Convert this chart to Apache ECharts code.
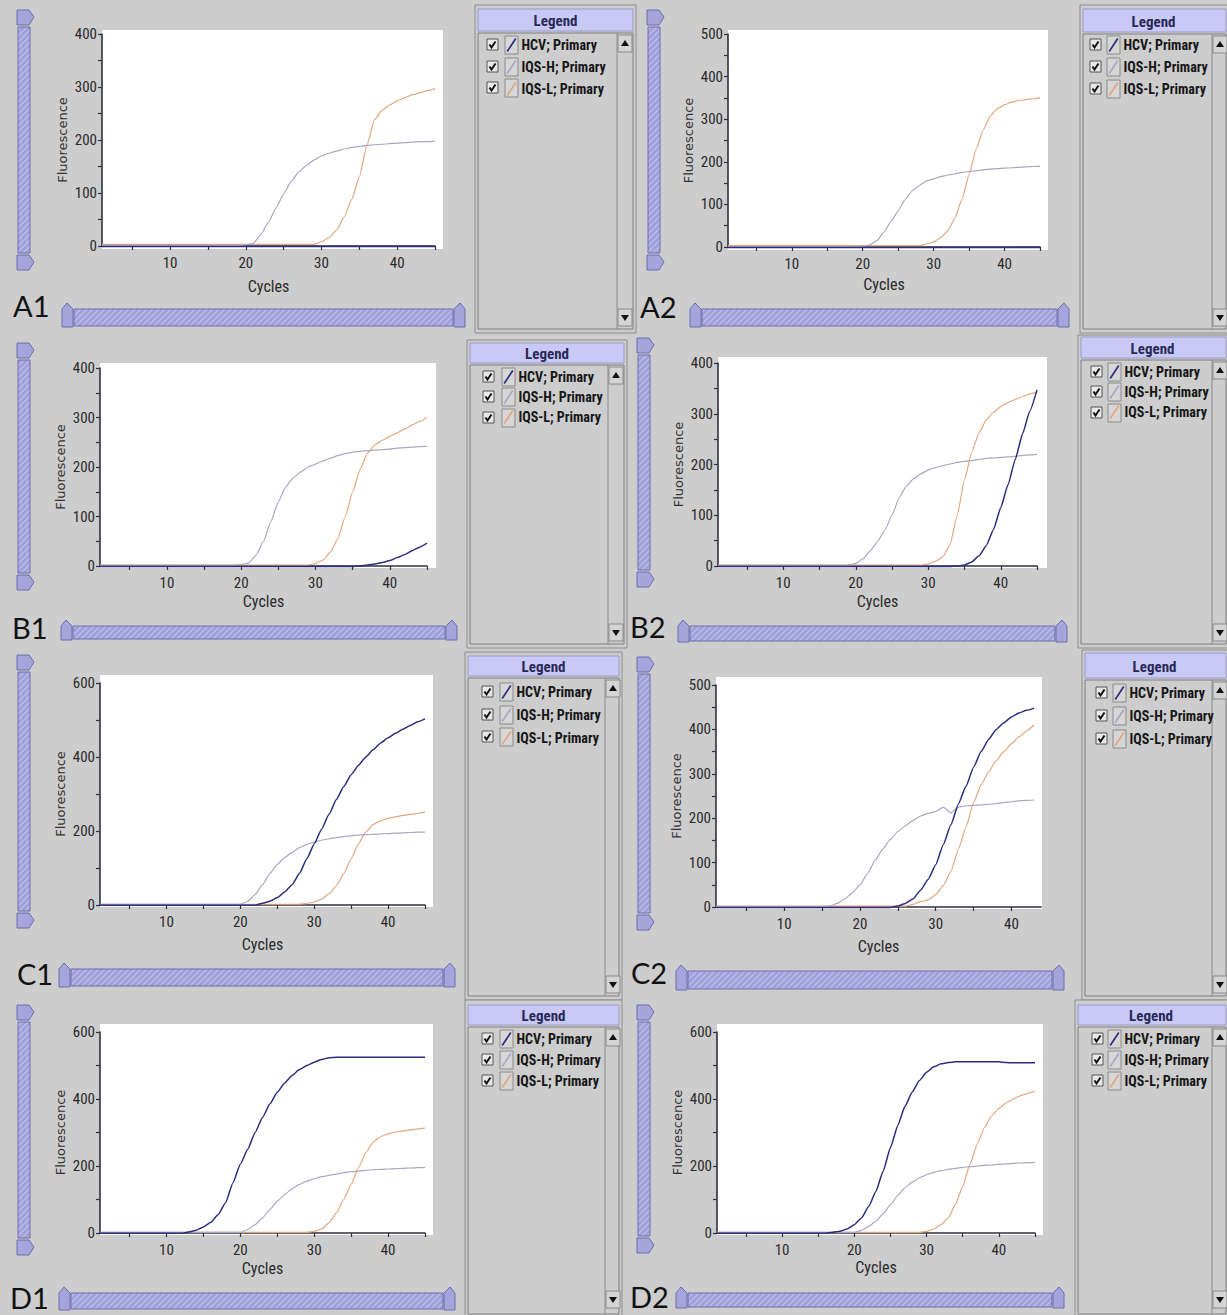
<!DOCTYPE html>
<html><head><meta charset="utf-8">
<script src="https://cdn.jsdelivr.net/npm/echarts@6/dist/echarts.min.js"></script>
<style>html,body{margin:0;padding:0;background:#cdcdcd}#c{width:1227px;height:1315px}</style>
</head><body><div id="c"></div><script>
// ---------------- data ----------------
const cycles = [1,2,3,4,5,6,7,8,9,10,11,12,13,14,15,16,17,18,19,20,21,22,23,24,25,26,27,28,29,30,31,32,33,34,35,36,37,38,39,40,41,42,43,44,45];
const seriesNames = ['HCV; Primary','IQS-H; Primary','IQS-L; Primary'];
const panelLabels = ['A1','A2','B1','B2','C1','C2','D1','D2'];
const yMaxes = [400,500,400,400,600,500,600,600];
const yIntervals = [100,100,100,100,200,100,200,200];
const xMaxes = [45,45,45,45,45,43.9,45,45];
const xTickValues = [5,10,15,20,25,30,35,40,45];
const xLabelValues = [10,20,30,40];

const A1_HCV = [-1,-1,-1,-1,-1, -1,-1,-1,-1,-1, -1,-1,-1,-1,-1, -1,-1,-1,-1,-1, -1,-1,-1,-1,-1, -1,-1,-1,-1,-1, -1,-1,-1,-1,-1, -1,-1,-1,-1,-1, -1,-1,-1,-1,-1];
const A1_IQSH = [1,1,1,1,1, 1,1,1,1,1, 1,1,1,1,1, 1,1,1,1,2, 5,22,45,72,98, 122,140,152,162,170, 175,179,183,186,188, 190,191,192,193,194, 195,196,197,197,198];
const A1_IQSL = [3,3,3,3,3, 3,3,3,3,3, 3,3,3,3,3, 3,3,3,3,3, 3,3,3,3,3, 3,3,3,3,8, 16,30,55,88,130, 190,238,256,266,274, 280,285,289,293,297];

const A2_HCV = [-1,-1,-1,-1,-1, -1,-1,-1,-1,-1, -1,-1,-1,-1,-1, -1,-1,-1,-1,-1, -1,-1,-1,-1,-1, -1,-1,-1,-1,-1, -1,-1,-1,-1,-1, -1,-1,-1,-1,-1, -1,-1,-1,-1,-1];
const A2_IQSH = [1,1,1,1,1, 1,1,1,1,1, 1,1,1,1,1, 1,1,1,1,2, 5,15,35,60,85, 112,132,145,155,160, 165,169,172,175,177, 179,181,183,184,185, 186,187,188,189,190];
const A2_IQSL = [3,3,3,3,3, 3,3,3,3,3, 3,3,3,3,3, 3,3,3,3,3, 3,3,3,3,3, 3,3,3,7,12, 22,38,68,112,170, 230,275,308,325,334, 340,344,346,348,350];

const B1_HCV = [-1,-1,-1,-1,-1, -1,-1,-1,-1,-1, -1,-1,-1,-1,-1, -1,-1,-1,-1,-1, -1,-1,-1,-1,-1, -1,-1,-1,-1,-1, -1,-1,-1,-1,-1, 0,2,4,7,11, 17,23,31,38,46];
const B1_IQSH = [2,2,2,2,2, 2,2,2,2,2, 2,2,2,2,2, 2,2,2,2,3, 6,22,50,90,130, 160,178,190,200,206, 212,218,223,227,230, 232,233,234,235,236, 238,239,240,241,242];
const B1_IQSL = [2,2,2,2,2, 2,2,2,2,2, 2,2,2,2,2, 2,2,2,2,2, 2,2,2,2,2, 2,2,2,2,5, 12,28,55,100,150, 195,228,245,254,262, 269,277,285,292,300];

const B2_HCV = [-1,-1,-1,-1,-1, -1,-1,-1,-1,-1, -1,-1,-1,-1,-1, -1,-1,-1,-1,-1, -1,-1,-1,-1,-1, -1,-1,-1,-1,-1, -1,-1,-1,0,2, 8,20,40,72,115, 160,210,260,305,347];
const B2_IQSH = [2,2,2,2,2, 2,2,2,2,2, 2,2,2,2,2, 2,2,2,2,5, 14,30,48,70,100, 135,158,172,182,189, 194,198,201,204,206, 208,210,212,213,214, 215,216,218,219,220];
const B2_IQSL = [2,2,2,2,2, 2,2,2,2,2, 2,2,2,2,2, 2,2,2,2,2, 2,2,2,2,2, 2,2,2,2,4, 9,18,42,100,170, 225,262,288,303,314, 322,328,334,339,343];

const C1_HCV = [-1,-1,-1,-1,-1, -1,-1,-1,-1,-1, -1,-1,-1,-1,-1, -1,-1,-1,-1,-1, -1,-1,5,10,20, 35,55,85,125,165, 205,245,285,320,352, 378,400,420,438,452, 464,475,485,495,503];
const C1_IQSH = [2,2,2,2,2, 2,2,2,2,2, 2,2,2,2,2, 2,2,2,2,2, 10,28,55,85,110, 128,142,155,164,170, 175,179,182,185,187, 189,190,191,192,193, 194,195,196,197,197];
const C1_IQSL = [2,2,2,2,2, 2,2,2,2,2, 2,2,2,2,2, 2,2,2,2,2, 2,2,2,2,2, 2,2,2,4,8, 16,30,52,85,125, 165,198,218,228,234, 238,242,245,248,251];

const C2_HCV = [-1,-1,-1,-1,-1, -1,-1,-1,-1,-1, -1,-1,-1,-1,-1, -1,-1,-1,-1,-1, -1,-1,-1,-1,2, 8,18,38,62,95, 140,185,232,272,315, 350,378,400,415,428, 437,443,448];
const C2_IQSH = [1,1,1,1,1, 1,1,1,1,1, 1,1,1,1,1, 2,8,18,32,50, 75,105,130,152,170, 183,195,205,211,215, 225,212,225,228,229, 230,231,233,235,237, 239,240,241];
const C2_IQSL = [2,2,2,2,2, 2,2,2,2,2, 2,2,2,2,2, 2,2,2,2,2, 2,2,2,2,2, 2,6,12,16,28, 48,80,130,180,235, 275,305,330,350,368, 383,397,410];

const D1_HCV = [-1,-1,-1,-1,-1, -1,-1,-1,-1,-1, -1,-1,3,8,18, 32,55,90,150,205, 250,300,345,385,420, 448,470,488,500,510, 518,523,525,525,525, 525,525,525,525,525, 525,525,525,525,525];
const D1_IQSH = [2,2,2,2,2, 2,2,2,2,2, 2,2,2,2,2, 2,2,2,2,2, 10,25,45,70,95, 115,132,145,155,162, 168,172,176,180,183, 185,187,189,190,191, 192,193,194,195,196];
const D1_IQSL = [2,2,2,2,2, 2,2,2,2,2, 2,2,2,2,2, 2,2,2,2,2, 2,2,2,2,2, 2,2,2,2,5, 12,30,60,100,145, 195,240,272,288,296, 301,305,308,311,313];

const D2_HCV = [-1,-1,-1,-1,-1, -1,-1,-1,-1,-1, -1,-1,-1,-1,-1, -1,2,5,12,25, 45,80,125,185,255, 320,378,420,455,480, 496,505,509,511,511, 511,511,511,511,511, 509,508,508,508,508];
const D2_IQSH = [2,2,2,2,2, 2,2,2,2,2, 2,2,2,2,2, 2,2,2,2,2, 8,20,35,58,85, 112,135,152,165,174, 181,186,190,193,196, 198,200,202,203,205, 206,208,209,210,211];
const D2_IQSL = [2,2,2,2,2, 2,2,2,2,2, 2,2,2,2,2, 2,2,2,2,2, 2,2,2,2,2, 2,2,2,2,5, 12,25,45,85,140, 205,265,315,350,372, 388,400,410,417,423];

const panelData = [
  [A1_HCV, A1_IQSH, A1_IQSL], [A2_HCV, A2_IQSH, A2_IQSL],
  [B1_HCV, B1_IQSH, B1_IQSL], [B2_HCV, B2_IQSH, B2_IQSL],
  [C1_HCV, C1_IQSH, C1_IQSL], [C2_HCV, C2_IQSH, C2_IQSL],
  [D1_HCV, D1_IQSH, D1_IQSL], [D2_HCV, D2_IQSH, D2_IQSL]
];

// ---------------- layout & style ----------------
const seriesColors = ['#2d2d80', '#aaa7c6', '#e5a67e'];
const seriesWidths = [1.5, 1.2, 1.2];
const NARROW = "'Liberation Sans Narrow','Arial Narrow','Roboto Condensed',sans-serif";
const LAV = '#a5a5dc', LAVB = '#6d6dae';

const P = [
 {g:[102,435,34,246], w:[102,30,443,249], xg:32, vs:[17,10,270], lb:[13,305], hs:[62,465,303,327],
  lg:{x0:475,x1:636,y0:5,y1:333,hy0:9,hy1:31,it:[45,67,88],cb:487,sw:505,sb:617}},
 {g:[728,1040,34,247], w:[728,30,1048,250], xg:29, vs:[647,10,270], lb:[640,306], hs:[690,1069,303,327],
  lg:{x0:1080,x1:1229,y0:5,y1:333,hy0:9,hy1:32,it:[45,67,89],cb:1090,sw:1107,sb:1212}},
 {g:[100,427,368,566], w:[100,363,436,568], xg:27, vs:[17,343,590], lb:[12,627], hs:[61,457,620,640],
  lg:{x0:467,x1:627,y0:340,y1:648,hy0:343,hy1:363,it:[377,397,418],cb:483,sw:502,sb:608}},
 {g:[718,1037,363,566], w:[718,357,1047,568], xg:27, vs:[637,338,587], lb:[630,626], hs:[678,1067,620,642],
  lg:{x0:1078,x1:1229,y0:335,y1:648,hy0:337,hy1:358,it:[372,392,413],cb:1091,sw:1108,sb:1212}},
 {g:[100,425,683,905], w:[100,675,433,907], xg:31, vs:[17,655,928], lb:[17,973], hs:[59,455,963,987],
  lg:{x0:465,x1:622,y0:652,y1:1000,hy0:656,hy1:676,it:[692,715,737],cb:482,sw:500,sb:605}},
 {g:[716,1041,685,907], w:[716,677,1042,909], xg:31, vs:[637,657,930], lb:[631,972], hs:[676,1064,965,990],
  lg:{x0:1082,x1:1229,y0:650,y1:1000,hy0:653,hy1:678,it:[693,716,739],cb:1096,sw:1113,sb:1212}},
 {g:[100,425,1032,1233], w:[100,1024,433,1235], xg:27, vs:[17,1005,1255], lb:[10,1297], hs:[59,455,1287,1310],
  lg:{x0:465,x1:622,y0:1000,y1:1318,hy0:1005,hy1:1025,it:[1039,1060,1081],cb:482,sw:500,sb:605}},
 {g:[717,1035,1032,1233], w:[717,1024,1043,1235], xg:26, vs:[637,1005,1253], lb:[630,1296], hs:[676,1064,1287,1308],
  lg:{x0:1075,x1:1229,y0:1000,y1:1318,hy0:1005,hy1:1025,it:[1039,1060,1081],cb:1092,sw:1108,sb:1212}}
];

function hatchPattern(){
  const c = document.createElement('canvas'); c.width = 6; c.height = 6;
  const ctx = c.getContext('2d');
  ctx.fillStyle = '#a0a0da'; ctx.fillRect(0,0,6,6);
  ctx.strokeStyle = '#c2c2ee'; ctx.lineWidth = 1.1;
  ctx.beginPath();
  ctx.moveTo(0,6); ctx.lineTo(6,0);
  ctx.moveTo(-3,3); ctx.lineTo(3,-3);
  ctx.moveTo(3,9); ctx.lineTo(9,3);
  ctx.stroke();
  return {image: c, repeat: 'repeat'};
}
const HATCH = hatchPattern();

const G = [];
function vScroll(x, y0, y1){
  const w = 17;
  G.push({type:'polygon', shape:{points:[[x,y0],[x+w-5,y0],[x+w,y0+7],[x+w-5,y0+15],[x,y0+15]]}, style:{fill:LAV, stroke:LAVB, lineWidth:1}});
  G.push({type:'rect', shape:{x:x+1, y:y0+17, width:12, height:y1-y0-34}, style:{fill:HATCH, stroke:LAVB, lineWidth:1}});
  G.push({type:'polygon', shape:{points:[[x,y1-15],[x+w-5,y1-15],[x+w,y1-8],[x+w-5,y1],[x,y1]]}, style:{fill:LAV, stroke:LAVB, lineWidth:1}});
}
function hScroll(x0, x1, y0, y1){
  G.push({type:'polygon', shape:{points:[[x0,y1],[x0,y0+6],[x0+5,y0],[x0+11,y0+6],[x0+11,y1]]}, style:{fill:LAV, stroke:LAVB, lineWidth:1}});
  G.push({type:'rect', shape:{x:x0+12, y:y0+6, width:x1-x0-24, height:y1-y0-7}, style:{fill:HATCH, stroke:LAVB, lineWidth:1}});
  G.push({type:'polygon', shape:{points:[[x1-11,y1],[x1-11,y0+6],[x1-5,y0],[x1,y0+6],[x1,y1]]}, style:{fill:LAV, stroke:LAVB, lineWidth:1}});
}
function legendBox(L){
  G.push({type:'rect', shape:{x:L.x0, y:L.y0, width:L.x1-L.x0, height:L.y1-L.y0}, style:{fill:'#cdcdcd', stroke:'#8e8e8e', lineWidth:1}});
  G.push({type:'rect', shape:{x:L.x0+3, y:L.hy0, width:L.x1-L.x0-6, height:L.hy1-L.hy0}, style:{fill:'#c9c9f6', stroke:'#9a9ac8', lineWidth:1}});
  G.push({type:'text', style:{text:'Legend', x:(L.x0+Math.min(L.x1,1227))/2, y:(L.hy0+L.hy1)/2+1, align:'center', verticalAlign:'middle', textAlign:'center', textVerticalAlign:'middle', fontFamily:NARROW, fontWeight:'bold', fontSize:15, fill:'#2a2a58'}});
  G.push({type:'rect', shape:{x:L.x0+3, y:L.hy1+2, width:L.x1-L.x0-6, height:L.y1-L.hy1-6}, style:{fill:'none', stroke:'#7e7e7e', lineWidth:1}});
  const sx = L.sb, sw = 14;
  G.push({type:'line', shape:{x1:sx, y1:L.hy1+2, x2:sx, y2:L.y1-4}, style:{stroke:'#8a8a8a', lineWidth:1}});
  G.push({type:'rect', shape:{x:sx+1, y:L.hy1+4, width:sw, height:17}, style:{fill:'#d4d4d4', stroke:'#8a8a8a', lineWidth:1}});
  G.push({type:'polygon', shape:{points:[[sx+4,L.hy1+15],[sx+8,L.hy1+9],[sx+12,L.hy1+15]]}, style:{fill:'#111'}});
  const by = Math.min(L.y1, 1315) - 24;
  G.push({type:'rect', shape:{x:sx+1, y:by, width:sw, height:17}, style:{fill:'#d4d4d4', stroke:'#8a8a8a', lineWidth:1}});
  G.push({type:'polygon', shape:{points:[[sx+4,by+6],[sx+8,by+12],[sx+12,by+6]]}, style:{fill:'#111'}});
  L.it.forEach(function(y){
    G.push({type:'rect', shape:{x:L.cb, y:y-6, width:11, height:11}, style:{fill:'#e9e9e9', stroke:'#555', lineWidth:1}});
    G.push({type:'polyline', shape:{points:[[L.cb+2.5,y-0.5],[L.cb+4.5,y+2.5],[L.cb+8.5,y-3.5]]}, style:{fill:'none', stroke:'#111', lineWidth:2}});
    G.push({type:'rect', shape:{x:L.sw, y:y-9, width:13, height:18}, style:{fill:'#d6d6d6', stroke:'#8a8a8a', lineWidth:1}});
  });
}

const grids = [], xAxes = [], yAxes = [], series = [], legends = [];
P.forEach(function(p, i){
  G.push({type:'rect', z:-1, shape:{x:p.w[0], y:p.w[1], width:p.w[2]-p.w[0], height:p.w[3]-p.w[1]}, style:{fill:'#ffffff'}});
  vScroll(p.vs[0], p.vs[1], p.vs[2]);
  hScroll(p.hs[0], p.hs[1], p.hs[2], p.hs[3]);
  legendBox(p.lg);
  G.push({type:'text', style:{text:panelLabels[i], x:p.lb[0], y:p.lb[1], align:'left', verticalAlign:'middle', textAlign:'left', textVerticalAlign:'middle', fontFamily:"Lato,'Open Sans',sans-serif", fontSize:29, fill:'#111'}});

  grids.push({left:p.g[0], top:p.g[2], width:p.g[1]-p.g[0], height:p.g[3]-p.g[2], show:false, containLabel:false});
  xAxes.push({type:'value', gridIndex:i, min:1, max:xMaxes[i],
    axisLine:{show:true, onZero:false, lineStyle:{color:'#303040', width:1.6}},
    axisTick:{show:true, customValues:xTickValues.filter(function(v){return v<=xMaxes[i];}), length:4, lineStyle:{color:'#303040', width:1.2}},
    axisLabel:{customValues:xLabelValues, margin:9, fontFamily:NARROW, fontSize:15, color:'#2a2a2a'},
    splitLine:{show:false},
    name:'Cycles', nameLocation:'middle', nameGap:p.xg,
    nameTextStyle:{fontFamily:NARROW, fontSize:16, color:'#2a2a2a'}});
  yAxes.push({type:'value', gridIndex:i, min:0, max:yMaxes[i], interval:yIntervals[i],
    axisLine:{show:true, onZero:false, lineStyle:{color:'#303040', width:1.6}},
    axisTick:{show:true, length:4, lineStyle:{color:'#303040', width:1.2}},
    minorTick:{show:true, splitNumber:2, length:4, lineStyle:{color:'#303040', width:1.2}},
    axisLabel:{margin:5, fontFamily:NARROW, fontSize:15, color:'#2a2a2a'},
    splitLine:{show:false},
    name:'Fluorescence', nameLocation:'middle', nameGap:33,
    nameTextStyle:{fontFamily:"'DejaVu Sans',Verdana,sans-serif", fontSize:13, color:'#333'}});
  [2,1,0].forEach(function(k){
    series.push({type:'line', name:seriesNames[k], xAxisIndex:i, yAxisIndex:i,
      data: panelData[i][k].map(function(v, j){ return [cycles[j], v]; }),
      showSymbol:false, symbol:'none', clip:false, silent:true,
      smooth:0.15, smoothMonotone:'x',
      lineStyle:{color:seriesColors[k], width:seriesWidths[k]},
      itemStyle:{color:seriesColors[k]}, z: k===0?3:2});
  });
  const L = p.lg;
  legends.push({orient:'vertical', left:L.sw+1.5, top:L.it[0]-7, padding:0,
    itemWidth:10, itemHeight:14, itemGap:(L.it[1]-L.it[0])-14,
    icon:'path://M8.6,0 L10,1 L1.4,14 L0,13 Z', selectedMode:false,
    textStyle:{fontFamily:NARROW, fontWeight:'bold', fontSize:14, color:'#161616'},
    data: seriesNames});
});

const chart = echarts.init(document.getElementById('c'), null, {renderer:'svg', width:1227, height:1315});
chart.setOption({
  animation:false,
  backgroundColor:'#cdcdcd',
  grid: grids, xAxis: xAxes, yAxis: yAxes, series: series, legend: legends,
  graphic: {elements: G}
});
</script></body></html>
